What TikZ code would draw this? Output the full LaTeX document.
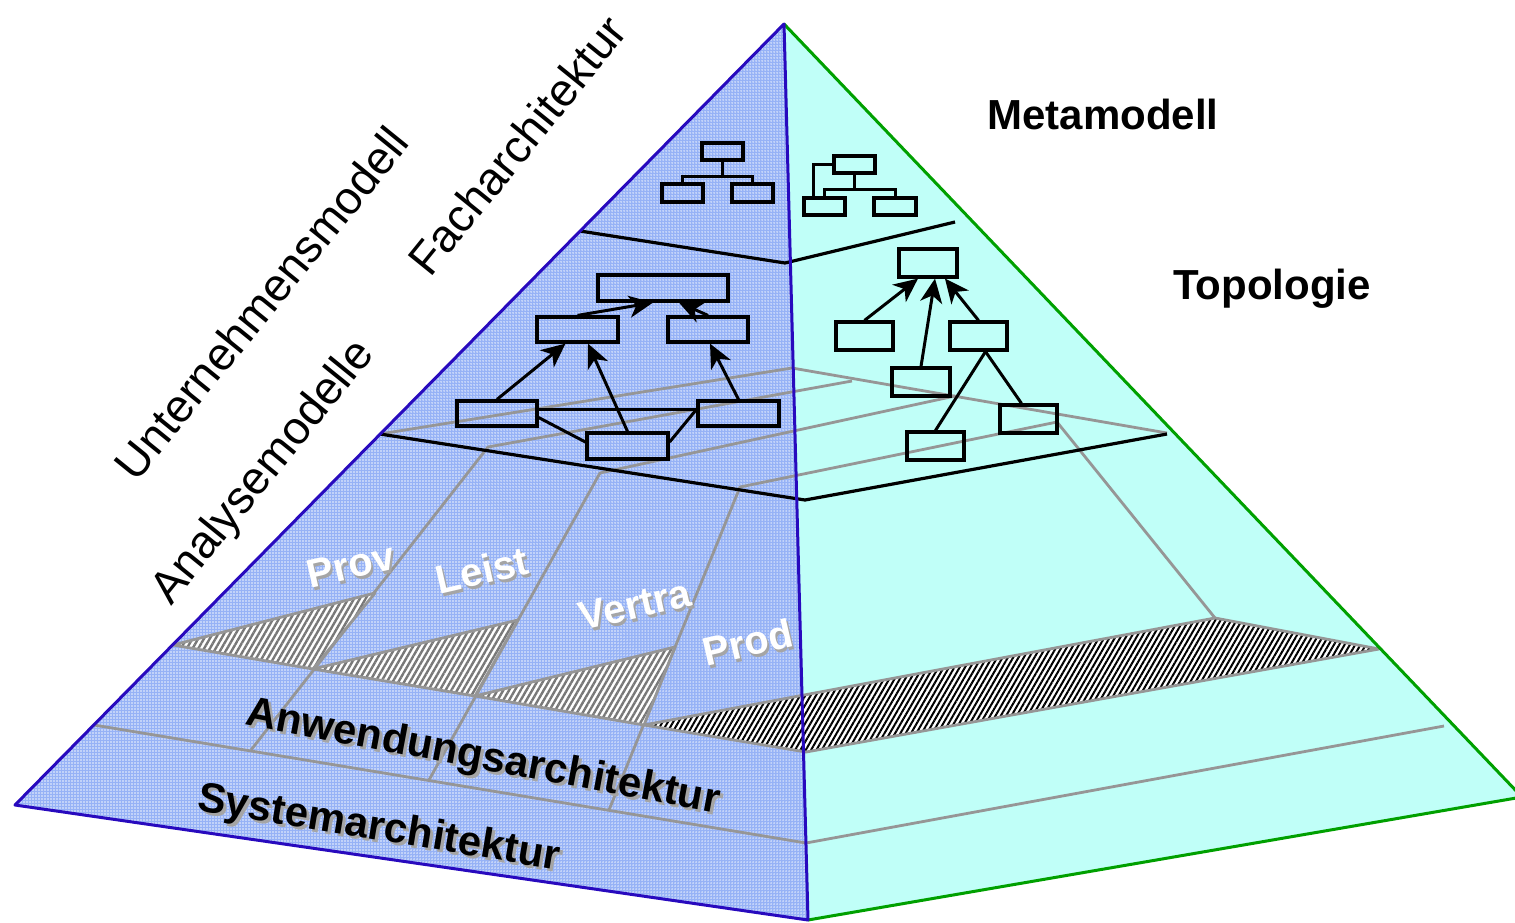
\documentclass[tikz,border=0pt]{standalone}
\usepackage{fontspec}
\setmainfont{Liberation Sans}
\usetikzlibrary{arrows.meta,patterns.meta,calc}
\definecolor{faceblue}{RGB}{150,178,246}
\definecolor{facecyan}{RGB}{192,255,248}
\definecolor{edgeblue}{RGB}{40,10,190}
\definecolor{edgegreen}{RGB}{0,160,0}
\definecolor{linegray}{RGB}{150,150,150}
\definecolor{shadowgray}{RGB}{165,165,165}
\definecolor{stripegray}{RGB}{120,120,120}

\begin{document}
\begin{tikzpicture}[x=0.5pt,y=-0.5pt,
  layer/.style={draw=linegray,line width=1.4pt,line join=round},
  sep/.style={draw=black,line width=1.6pt,line join=round},
  umlbox/.style={draw=black,line width=1.6pt,inner sep=0pt,minimum width=#1},
  link/.style={draw=black,line width=1.5pt},
  inherit/.style={link,-{Stealth[length=12pt,width=11pt,inset=3.5pt]}},
  graystripes/.style={draw=linegray,line width=1.4pt,line join=round,preaction={fill=white},
    pattern={Lines[angle=60,distance=2.5pt,line width=1.2pt]},pattern color=stripegray},
  darkstripes/.style={draw=linegray,line width=1.4pt,line join=round,preaction={fill=white},
    pattern={Lines[angle=60,distance=2.3pt,line width=1pt]},pattern color=black},
  sidelabel/.style={font=\fontsize{23}{27}\selectfont,rotate=51},
  headlabel/.style={font=\bfseries\fontsize{21}{25}\selectfont},
  colname/.style={font=\bfseries\fontsize{20}{24}\selectfont,rotate=13},
  layername/.style={font=\bfseries\fontsize{21}{25}\selectfont,anchor=base},
]
\useasboundingbox (0,0) rectangle (1515,922);
\clip (0,0) rectangle (1515,922);

% the two faces of the pyramid; the left one carries a fine dot raster
\fill[faceblue] (784,24) -- (15,805) -- (808,920) -- cycle;
\fill[pattern={Dots[radius=0.38pt,distance=1.5pt]},pattern color=white!85!faceblue]
  (784,24) -- (15,805) -- (808,920) -- cycle;
\fill[facecyan] (784,24) -- (808,920) -- (1522,797) -- cycle;

% slab and column outlines
\draw[layer] (380,434) -- (792,368) -- (1167,433);
\draw[layer] (251,750) -- (488,447) -- (852,381);
\draw[layer] (429,780) -- (600,473) -- (955,396);
\draw[layer] (609,810) -- (740,487) -- (1057,422) -- (1215,618);
\draw[layer] (94,725) -- (806,843) -- (1444,726);

% hatched cut faces
\draw[graystripes] (173,645) -- (375,593) -- (313,669) -- cycle;
\draw[graystripes] (313,669) -- (518,620) -- (475,696) -- cycle;
\draw[graystripes] (475,696) -- (675,647) -- (644,725) -- cycle;
\draw[darkstripes] (644,725) -- (1215,618) -- (1379,649) -- (806,752) -- cycle;

% layer borders
\draw[sep] (580,231) -- (785,263) -- (955,222);
\draw[sep] (380,434) -- (805,500) -- (1167,434);

% pyramid edges
\draw[edgegreen,line width=1.5pt,line join=round] (784,24) -- (1522,797) -- (808,920);
\draw[edgeblue,line width=1.5pt,line join=round] (808,920) -- (15,805) -- (784,24) -- cycle;

% Facharchitektur metamodel tree
\node[umlbox=20.5pt,minimum height=8.5pt] (ft) at (722.5,151.5) {};
\node[umlbox=20.5pt,minimum height=9pt] (fl) at (682.5,193) {};
\node[umlbox=20.5pt,minimum height=9pt] (fr) at (752.5,193) {};
\coordinate (fbus) at (722.5,176);
\draw[link] (ft.south) -- (fbus);
\draw[link] (fl.north) |- (fbus) -| (fr.north);

% Topologie metamodel tree
\node[umlbox=20.5pt,minimum height=8.5pt] (mt) at (854.5,164.5) {};
\node[umlbox=20.5pt,minimum height=8.5pt] (ml) at (824.5,206.5) {};
\node[umlbox=21pt,minimum height=8.5pt] (mr) at (895,206.5) {};
\coordinate (mbus) at (854.5,189);
\draw[link] (mt.south) -- (mbus);
\draw[link] (ml.north) |- (mbus) -| (mr.north);
\draw[link] (mt.west) -| ($(ml.north west)!0.25!(ml.north east)$);

% analysis model classes
\node[umlbox=65pt,minimum height=13pt] (at) at (663,288) {};
\node[umlbox=40.5pt,minimum height=12.5pt] (al) at (577.5,329.5) {};
\node[umlbox=40pt,minimum height=12.5pt] (ar) at (708,329.5) {};
\node[umlbox=40pt,minimum height=12.5pt] (bl) at (497,413.5) {};
\node[umlbox=40.5pt,minimum height=12.5pt] (br) at (738.5,413.5) {};
\node[umlbox=40.5pt,minimum height=13pt] (bm) at (627.5,446) {};
\draw[inherit] (al.north) -- ([xshift=-5pt]at.south);
\draw[inherit] (ar.north) -- ([xshift=8pt]at.south);
\draw[inherit] (bl.north) -- ([xshift=-6pt]al.south);
\draw[inherit] (bm.north) -- ([xshift=5.25pt]al.south);
\draw[inherit] (br.north) -- ([xshift=1pt]ar.south);
\draw[link] ([yshift=2.25pt]bl.east) -- ([yshift=2.25pt]br.west);
\draw[link] ([yshift=-2pt]bl.east) -- ([yshift=2pt]bm.west);
\draw[link] ([yshift=2pt]bm.east) -- ([yshift=2pt]br.west);

% topology classes
\node[umlbox=29pt,minimum height=14pt] (tt) at (928,263) {};
\node[umlbox=28.5pt,minimum height=14pt] (tl) at (864.5,336) {};
\node[umlbox=28.5pt,minimum height=14pt] (tr) at (978.5,336) {};
\node[umlbox=29pt,minimum height=14pt] (tm) at (921,382) {};
\node[umlbox=28.5pt,minimum height=14pt] (tbl) at (935.5,446) {};
\node[umlbox=28.5pt,minimum height=14pt] (tbr) at (1028.5,419) {};
\draw[inherit] (tl.north) -- ([xshift=-5pt]tt.south);
\draw[inherit] (tm.north) -- ([xshift=3.5pt]tt.south);
\draw[inherit] (tr.north) -- ([xshift=8.5pt]tt.south);
\draw[link] ([xshift=3.5pt]tr.south) -- (tbl.north);
\draw[link] ([xshift=3.5pt]tr.south) -- ([xshift=-3.5pt]tbr.north);

% labels
\node[headlabel] (meta) at (1103,114) {Metamodell};
\node[headlabel] (topo) at (1272,289) {Topologie};
\node[sidelabel] (unt) at (261,303) {Unternehmensmodell};
\node[sidelabel] (fach) at (517,145) {Facharchitektur};
\node[sidelabel] (ana) at (264,473) {Analysemodelle};

\node[colname,text=shadowgray] (prov-sh) at (353,568) {Prov};
\node[colname,text=white] (prov) at (351,565) {Prov};
\node[colname,text=shadowgray] (leist-sh) at (484,573) {Leist};
\node[colname,text=white] (leist) at (482,570) {Leist};
\node[colname,text=shadowgray] (vertra-sh) at (637,608) {Vertra};
\node[colname,text=white] (vertra) at (635,605) {Vertra};
\node[colname,text=shadowgray] (prod-sh) at (750,645) {Prod};
\node[colname,text=white] (prod) at (748,642) {Prod};

\node[layername,rotate=-10.6,text=shadowgray] (anw-sh) at (484,772) {Anwendungsarchitektur};
\node[layername,rotate=-10.6] (anw) at (481,769) {Anwendungsarchitektur};
\node[layername,rotate=-9.4,text=shadowgray] (sys-sh) at (380,843) {Systemarchitektur};
\node[layername,rotate=-9.4] (sys) at (377,840) {Systemarchitektur};
\end{tikzpicture}
\end{document}
